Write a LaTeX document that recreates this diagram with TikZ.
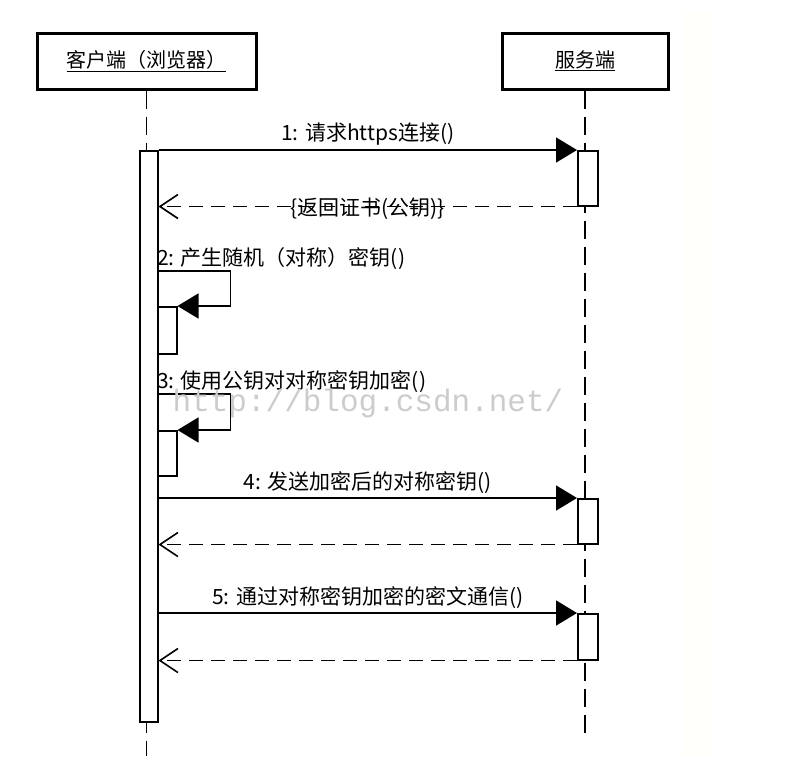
\documentclass[tikz,border=0pt]{standalone}
\usepackage{fontspec}
\setmainfont{Noto Sans CJK SC}
\newfontfamily\markfont{Liberation Mono}
\usetikzlibrary{arrows.meta}

\tikzset{
  objbox/.style={draw, line width=3pt, minimum width=#1, minimum height=56pt, inner sep=0pt,
    font=\fontsize{20}{22}\selectfont},
  lifeline/.style={line width=1.6pt, dash pattern=on 18pt off 8pt},
  actbar/.style={draw, fill=white, line width=1.5pt, inner sep=0pt, anchor=north west},
  call/.style={line width=1.6pt, -{Triangle[length=21pt,width=25pt]}},
  reply/.style={line width=1.6pt, dash pattern=on 14pt off 8pt,
    -{Straight Barb[length=18pt,width=24pt,line width=1.6pt]}},
  msg/.style={font=\fontsize{21}{23}\selectfont, inner sep=1pt}
}

\begin{document}
\begin{tikzpicture}[x=1pt,y=-1pt]

  \useasboundingbox (0,0) rectangle (790,756);
  \fill[yellow!1.5] (682,10) rectangle (712,756);

  % objects and lifelines
  \node[objbox=219pt] (client) at (146.5,61) {\underline{客户端（浏览器）}};
  \node[objbox=166pt] (server) at (585,61) {\underline{服务端}};
  \draw[lifeline] (client.south) -- (146.5,756);
  \draw[lifeline] (server.south) -- (585,735);

  % activations
  \node[actbar, minimum width=18pt, minimum height=571pt] (cact) at (139,150) {};
  \node[actbar, minimum width=20pt, minimum height=55pt] (sact1) at (577,150) {};
  \node[actbar, minimum width=20pt, minimum height=45pt] (sact2) at (577,498) {};
  \node[actbar, minimum width=20pt, minimum height=46pt] (sact3) at (577,613) {};
  \node[actbar, minimum width=19pt, minimum height=47pt] (self2) at (157,306) {};
  \node[actbar, minimum width=19pt, minimum height=45pt] (self3) at (157,430) {};

  % messages
  \draw[call] (cact.east |- sact1.north) -- (sact1.north west)
    node[msg, midway, above=3pt] {1: 请求https连接()};
  \draw[reply] (sact1.south west) -- (cact.east |- sact1.south)
    node[msg, midway, yshift=-2pt] {\{返回证书(公钥)\}};

  \node[msg, anchor=south west] (lbl2) at (156,271) {2: 产生随机（对称）密钥()};
  \draw[call] (cact.east |- 0,271) -- ++(72,0) |- (self2.north east);

  \node[msg, anchor=south west] (lbl3) at (156,394) {3: 使用公钥对对称密钥加密()};
  \draw[call] (cact.east |- 0,394) -- ++(72,0) |- (self3.north east);

  \draw[call] (cact.east |- sact2.north) -- (sact2.north west)
    node[msg, midway, above=3pt] {4: 发送加密后的对称密钥()};
  \draw[reply] (sact2.south west) -- (cact.east |- sact2.south);

  \draw[call] (cact.east |- sact3.north) -- (sact3.north west)
    node[msg, midway, above=3pt] {5: 通过对称密钥加密的密文通信()};
  \draw[reply] (sact3.south west) -- (cact.east |- sact3.south);

  \node[text=gray!40, font=\markfont\fontsize{31}{31}\selectfont] (mark) at (368,403) {http://blog.csdn.net/};

\end{tikzpicture}
\end{document}
